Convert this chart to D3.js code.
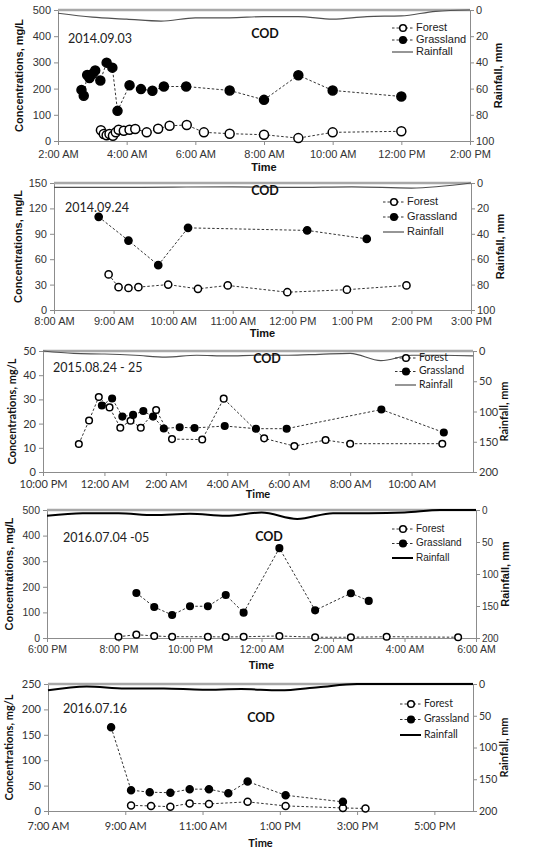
<!DOCTYPE html>
<html><head><meta charset="utf-8">
<script src="https://cdn.jsdelivr.net/npm/d3@7"></script>
<style>
body{margin:0;background:#fff;}
svg{display:block;}
</style></head><body>
<svg id="c" width="550" height="855"></svg>
<script>
// ---------- DATA ----------
const p1Dates = "2014.09.03";
const p1Forest = [["1 03:15",41],["1 03:20",27],["1 03:25",22],["1 03:30",27],["1 03:36",20],["1 03:41",33],["1 03:46",43],["1 03:55",39],["1 04:05",43],["1 04:15",46],["1 04:35",33],["1 04:55",47],["1 05:15",58],["1 05:45",61],["1 06:15",33],["1 07:00",28],["1 08:00",24],["1 09:00",11],["1 10:00",33],["1 12:00",37]];
const p1Grass = [["1 02:41",195],["1 02:45",173],["1 02:51",252],["1 02:55",240],["1 03:00",256],["1 03:05",269],["1 03:14",231],["1 03:25",299],["1 03:35",280],["1 03:44",115],["1 04:05",213],["1 04:25",198],["1 04:45",192],["1 05:05",208],["1 05:44",208],["1 07:00",193],["1 08:00",157],["1 09:00",251],["1 10:00",193],["1 12:00",170]];
const p1Rain = [["1 02:00",2.5],["1 03:00",5.5],["1 04:00",7],["1 05:00",8.5],["1 06:00",6],["1 07:00",6],["1 08:00",5],["1 09:00",5],["1 10:00",7],["1 11:00",5],["1 12:00",4.5],["1 13:00",1],["1 14:00",0]];
const p1XTicks = ["1 02:00","1 04:00","1 06:00","1 08:00","1 10:00","1 12:00","1 14:00"];
const p1YTicks = [0,100,200,300,400,500];
const p1RTicks = [0,20,40,60,80,100];

const p2Dates = "2014.09.24";
const p2Forest = [["1 08:55",42],["1 09:05",27],["1 09:15",26],["1 09:25",27],["1 09:55",30],["1 10:25",25],["1 10:55",29],["1 11:55",21],["1 12:55",24],["1 13:55",29]];
const p2Grass = [["1 08:45",110],["1 09:15",82],["1 09:45",53],["1 10:15",97],["1 12:15",94],["1 13:15",84]];
const p2Rain = [["1 08:00",3.5],["1 09:00",3.5],["1 10:00",3.2],["1 11:00",3],["1 12:00",3.5],["1 13:00",3],["1 14:00",4],["1 15:00",0]];
const p2XTicks = ["1 08:00","1 09:00","1 10:00","1 11:00","1 12:00","1 13:00","1 14:00","1 15:00"];
const p2YTicks = [0,30,60,90,120,150];
const p2RTicks = [0,20,40,60,80,100];

const p3Dates = "2015.08.24 - 25";
const p3Forest = [["1 23:10",11.6],["1 23:30",21.3],["1 23:49",31],["2 00:10",26.7],["2 00:31",18.3],["2 00:51",21.2],["2 01:11",18.3],["2 01:41",25.6],["2 02:12",13.6],["2 03:11",13.4],["2 03:53",30.3],["2 05:12",13.9],["2 06:11",10.7],["2 07:12",13.2],["2 08:00",11.7],["2 11:00",11.7]];
const p3Grass = [["1 23:55",27.5],["2 00:15",30.4],["2 00:35",22.9],["2 00:56",23.6],["2 01:16",25.2],["2 01:35",22.9],["2 01:56",18],["2 02:27",18.5],["2 02:56",18.2],["2 03:55",19],["2 04:56",17.9],["2 05:56",17.9],["2 09:01",25.8],["2 11:03",16.3]];
const p3Rain = [["1 22:00",0],["1 23:00",4],["2 00:00",5],["2 01:00",7],["2 02:00",10],["2 03:00",7],["2 04:00",8],["2 05:00",7],["2 06:00",7],["2 07:00",5.5],["2 08:00",4],["2 09:00",16],["2 10:00",7],["2 11:00",7],["2 12:00",8]];
const p3XTicks = ["1 22:00","2 00:00","2 02:00","2 04:00","2 06:00","2 08:00","2 10:00"];
const p3YTicks = [0,10,20,30,40,50];
const p3RTicks = [0,50,100,150,200];

const p4Dates = "2016.07.04 -05";
const p4Forest = [["1 20:00",5],["1 20:30",13],["1 21:00",8],["1 21:30",5],["1 22:30",5],["1 23:00",4],["1 23:30",5],["2 00:30",8],["2 01:30",3],["2 02:30",3],["2 03:30",5],["2 05:30",3]];
const p4Grass = [["1 20:30",176],["1 21:00",121],["1 21:30",90],["1 22:00",124],["1 22:30",124],["1 23:00",168],["1 23:30",99],["2 00:30",351],["2 01:30",108],["2 02:30",175],["2 03:00",145]];
const p4Rain = [["1 18:00",9],["1 19:00",5],["1 20:00",5],["1 21:00",8],["1 22:00",6],["1 23:00",9],["2 00:00",4],["2 01:00",14],["2 02:00",5],["2 03:00",5],["2 04:00",4],["2 05:00",0],["2 06:00",0]];
const p4XTicks = ["1 18:00","1 20:00","1 22:00","2 00:00","2 02:00","2 04:00","2 06:00"];
const p4YTicks = [0,100,200,300,400,500];
const p4RTicks = [0,50,100,150,200];

const p5Dates = "2016.07.16";
const p5Forest = [["1 09:09",11],["1 09:40",10],["1 10:10",8.5],["1 10:40",15],["1 11:10",14],["1 12:10",18],["1 13:09",10],["1 14:38",6],["1 15:13",5]];
const p5Grass = [["1 08:38",165],["1 09:09",41],["1 09:38",37],["1 10:10",36],["1 10:40",43],["1 11:10",43],["1 11:40",35],["1 12:10",58],["1 13:09",31],["1 14:38",18]];
const p5Rain = [["1 07:00",10],["1 08:00",4],["1 09:00",7],["1 10:00",7],["1 11:00",9],["1 12:00",8],["1 13:00",10],["1 14:00",5],["1 15:00",0],["1 16:00",0],["1 17:00",0],["1 18:00",0]];
const p5XTicks = ["1 07:00","1 09:00","1 11:00","1 13:00","1 15:00","1 17:00"];
const p5YTicks = [0,50,100,150,200,250];
const p5RTicks = [0,50,100,150,200];

const seriesNames = ["Forest","Grassland","Rainfall"];
const titleText = "COD";
const yLabel = "Concentrations, mg/L";
const rLabel = "Rainfall, mm";
const xLabel = "Time";

// ---------- LAYOUT ----------
const parse = d3.timeParse("%d %H:%M");
const fmt = d3.timeFormat("%-I:%M %p");
const arial = "'Liberation Sans', Arial, sans-serif";
const calib = "Lato, 'Open Sans', sans-serif";
const panels = [
  {date:p1Dates, forest:p1Forest, grass:p1Grass, rain:p1Rain, xt:p1XTicks, yt:p1YTicks, rt:p1RTicks,
   xd:["1 02:00","1 14:00"], L:58,R:470,T:10,B:141, dateXY:[68,43], codXY:[265,38], leg:[392,28,12], lfs:11,
   ylx:20, rlx:499, tkOff:14, timeOff:30, r:4.5, rainW:1.2, rainC:"#505050", font:arial, tfs:11, rfs:11},
  {date:p2Dates, forest:p2Forest, grass:p2Grass, rain:p2Rain, xt:p2XTicks, yt:p2YTicks, rt:p2RTicks,
   xd:["1 08:00","1 15:00"], L:54,R:471,T:183,B:310, dateXY:[65,212], codXY:[265,195], leg:[383,202,15], lfs:11,
   ylx:19, rlx:501, tkOff:12, timeOff:27, r:3.6, rainW:1.2, rainC:"#505050", font:arial, tfs:11, rfs:11},
  {date:p3Dates, forest:p3Forest, grass:p3Grass, rain:p3Rain, xt:p3XTicks, yt:p3YTicks, rt:p3RTicks,
   xd:["1 22:00","2 12:00"], L:43,R:473,T:351,B:472, dateXY:[53,372], codXY:[267,363], leg:[395,358,13.5], lfs:10.5,
   ylx:13, rlx:505, tkOff:13.5, timeOff:26, r:3.3, rainW:1.2, rainC:"#505050", font:calib, tfs:11, rfs:11},
  {date:p4Dates, forest:p4Forest, grass:p4Grass, rain:p4Rain, xt:p4XTicks, yt:p4YTicks, rt:p4RTicks,
   xd:["1 18:00","2 06:00"], L:47,R:476,T:510,B:638, dateXY:[63,542], codXY:[269,541], leg:[392,529,14.5], lfs:10,
   ylx:10, rlx:506, tkOff:12, timeOff:31, r:3.3, rainW:2, rainC:"#000", font:arial, tfs:10.5, rfs:10},
  {date:p5Dates, forest:p5Forest, grass:p5Grass, rain:p5Rain, xt:p5XTicks, yt:p5YTicks, rt:p5RTicks,
   xd:["1 07:00","1 18:00"], L:48,R:473,T:684,B:811, dateXY:[63,713], codXY:[261,722], leg:[400,704,15.5], lfs:10.5,
   ylx:10, rlx:505, tkOff:16, timeOff:36, r:3.5, rainW:2, rainC:"#000", font:calib, tfs:11, rfs:10.5}
];

const svg = d3.select("#c");
const axisC = "#8c8c8c";

panels.forEach(p => {
  const g = svg.append("g");
  const x = d3.scaleTime().domain(p.xd.map(parse)).range([p.L, p.R]);
  const y = d3.scaleLinear().domain([0, d3.max(p.yt)]).range([p.B, p.T]);
  const yr = d3.scaleLinear().domain([0, d3.max(p.rt)]).range([p.T, p.B]);

  // axes
  const xa = g.append("g").attr("transform",`translate(0,${p.B})`)
    .call(d3.axisBottom(x).tickValues(p.xt.map(parse)).tickFormat(fmt).tickSize(4).tickSizeOuter(0));
  const ya = g.append("g").attr("transform",`translate(${p.L},0)`)
    .call(d3.axisLeft(y).tickValues(p.yt).tickSize(4).tickSizeOuter(0));
  const ra = g.append("g").attr("transform",`translate(${p.R},0)`)
    .call(d3.axisRight(yr).tickValues(p.rt).tickSize(4).tickSizeOuter(0));
  [xa,ya,ra].forEach(a=>{
    a.selectAll("path,line").attr("stroke",axisC);
    a.selectAll("text").attr("fill","#333").style("font-family",p.font).style("font-size",p.tfs+"px");
  });
  xa.selectAll("text").attr("dy",null).attr("y",p.tkOff).attr("dominant-baseline","middle");
  ya.selectAll("text").attr("x",-7);
  ra.selectAll("text").attr("x",6).style("font-size",p.rfs+"px");
  // top border
  g.append("line").attr("x1",p.L).attr("x2",p.R).attr("y1",p.T).attr("y2",p.T)
    .attr("stroke","#a8a8a8").attr("stroke-width",2.5);

  // rainfall
  const rainLine = d3.line().x(d=>x(parse(d[0]))).y(d=>yr(d[1])).curve(d3.curveMonotoneX);
  g.append("path").datum(p.rain).attr("d",rainLine).attr("fill","none")
    .attr("stroke",p.rainC).attr("stroke-width",p.rainW);

  // series
  const line = d3.line().x(d=>x(parse(d[0]))).y(d=>y(d[1]));
  [[p.forest,"#fff"],[p.grass,"#000"]].forEach(([data,fill])=>{
    g.append("path").datum(data).attr("d",line).attr("fill","none")
      .attr("stroke","#333").attr("stroke-width",1).attr("stroke-dasharray","2.5,2");
    g.selectAll(null).data(data).enter().append("circle")
      .attr("cx",d=>x(parse(d[0]))).attr("cy",d=>y(d[1])).attr("r",p.r)
      .attr("fill",fill).attr("stroke","#000").attr("stroke-width",1.5);
  });

  // texts
  g.append("text").attr("x",p.dateXY[0]).attr("y",p.dateXY[1]).text(p.date)
    .style("font-family",calib).style("font-size","12.5px").attr("fill","#222");
  g.append("text").attr("x",p.codXY[0]).attr("y",p.codXY[1]).attr("text-anchor","middle").text(titleText)
    .style("font-family",calib).style("font-size","12.5px").style("font-weight","bold").attr("fill","#111");
  const cy = (p.T+p.B)/2;
  g.append("text").attr("transform",`translate(${p.ylx},${cy}) rotate(-90)`).attr("text-anchor","middle")
    .attr("dominant-baseline","middle").text(yLabel)
    .style("font-family",p.font).style("font-size","11px").style("font-weight","bold").attr("fill","#111");
  g.append("text").attr("transform",`translate(${p.rlx},${cy}) rotate(-90)`).attr("text-anchor","middle")
    .attr("dominant-baseline","middle").text(rLabel)
    .style("font-family",p.font).style("font-size","11px").style("font-weight","bold").attr("fill","#111");
  g.append("text").attr("x",(p.L+p.R)/2).attr("y",p.B+p.timeOff).attr("text-anchor","middle").text(xLabel)
    .style("font-family",p.font).style("font-size","11px").style("font-weight","bold").attr("fill","#111");

  // legend
  const [lx, ly, ls] = p.leg;
  seriesNames.forEach((nm,i)=>{
    const yy = ly + i*ls;
    const lg = g.append("g");
    if(i<2){
      lg.append("line").attr("x1",lx).attr("x2",lx+21).attr("y1",yy).attr("y2",yy)
        .attr("stroke","#333").attr("stroke-dasharray","2.5,2");
      lg.append("circle").attr("cx",lx+11).attr("cy",yy).attr("r",3.3)
        .attr("fill",i===0?"#fff":"#000").attr("stroke","#000").attr("stroke-width",1.5);
    } else {
      lg.append("line").attr("x1",lx).attr("x2",lx+21).attr("y1",yy).attr("y2",yy)
        .attr("stroke",p.rainC).attr("stroke-width",p.rainW);
    }
    lg.append("text").attr("x",lx+24).attr("y",yy).attr("dominant-baseline","middle").text(nm)
      .style("font-family",p.font).style("font-size",p.lfs+"px").attr("fill","#222");
  });
});
</script></body></html>
